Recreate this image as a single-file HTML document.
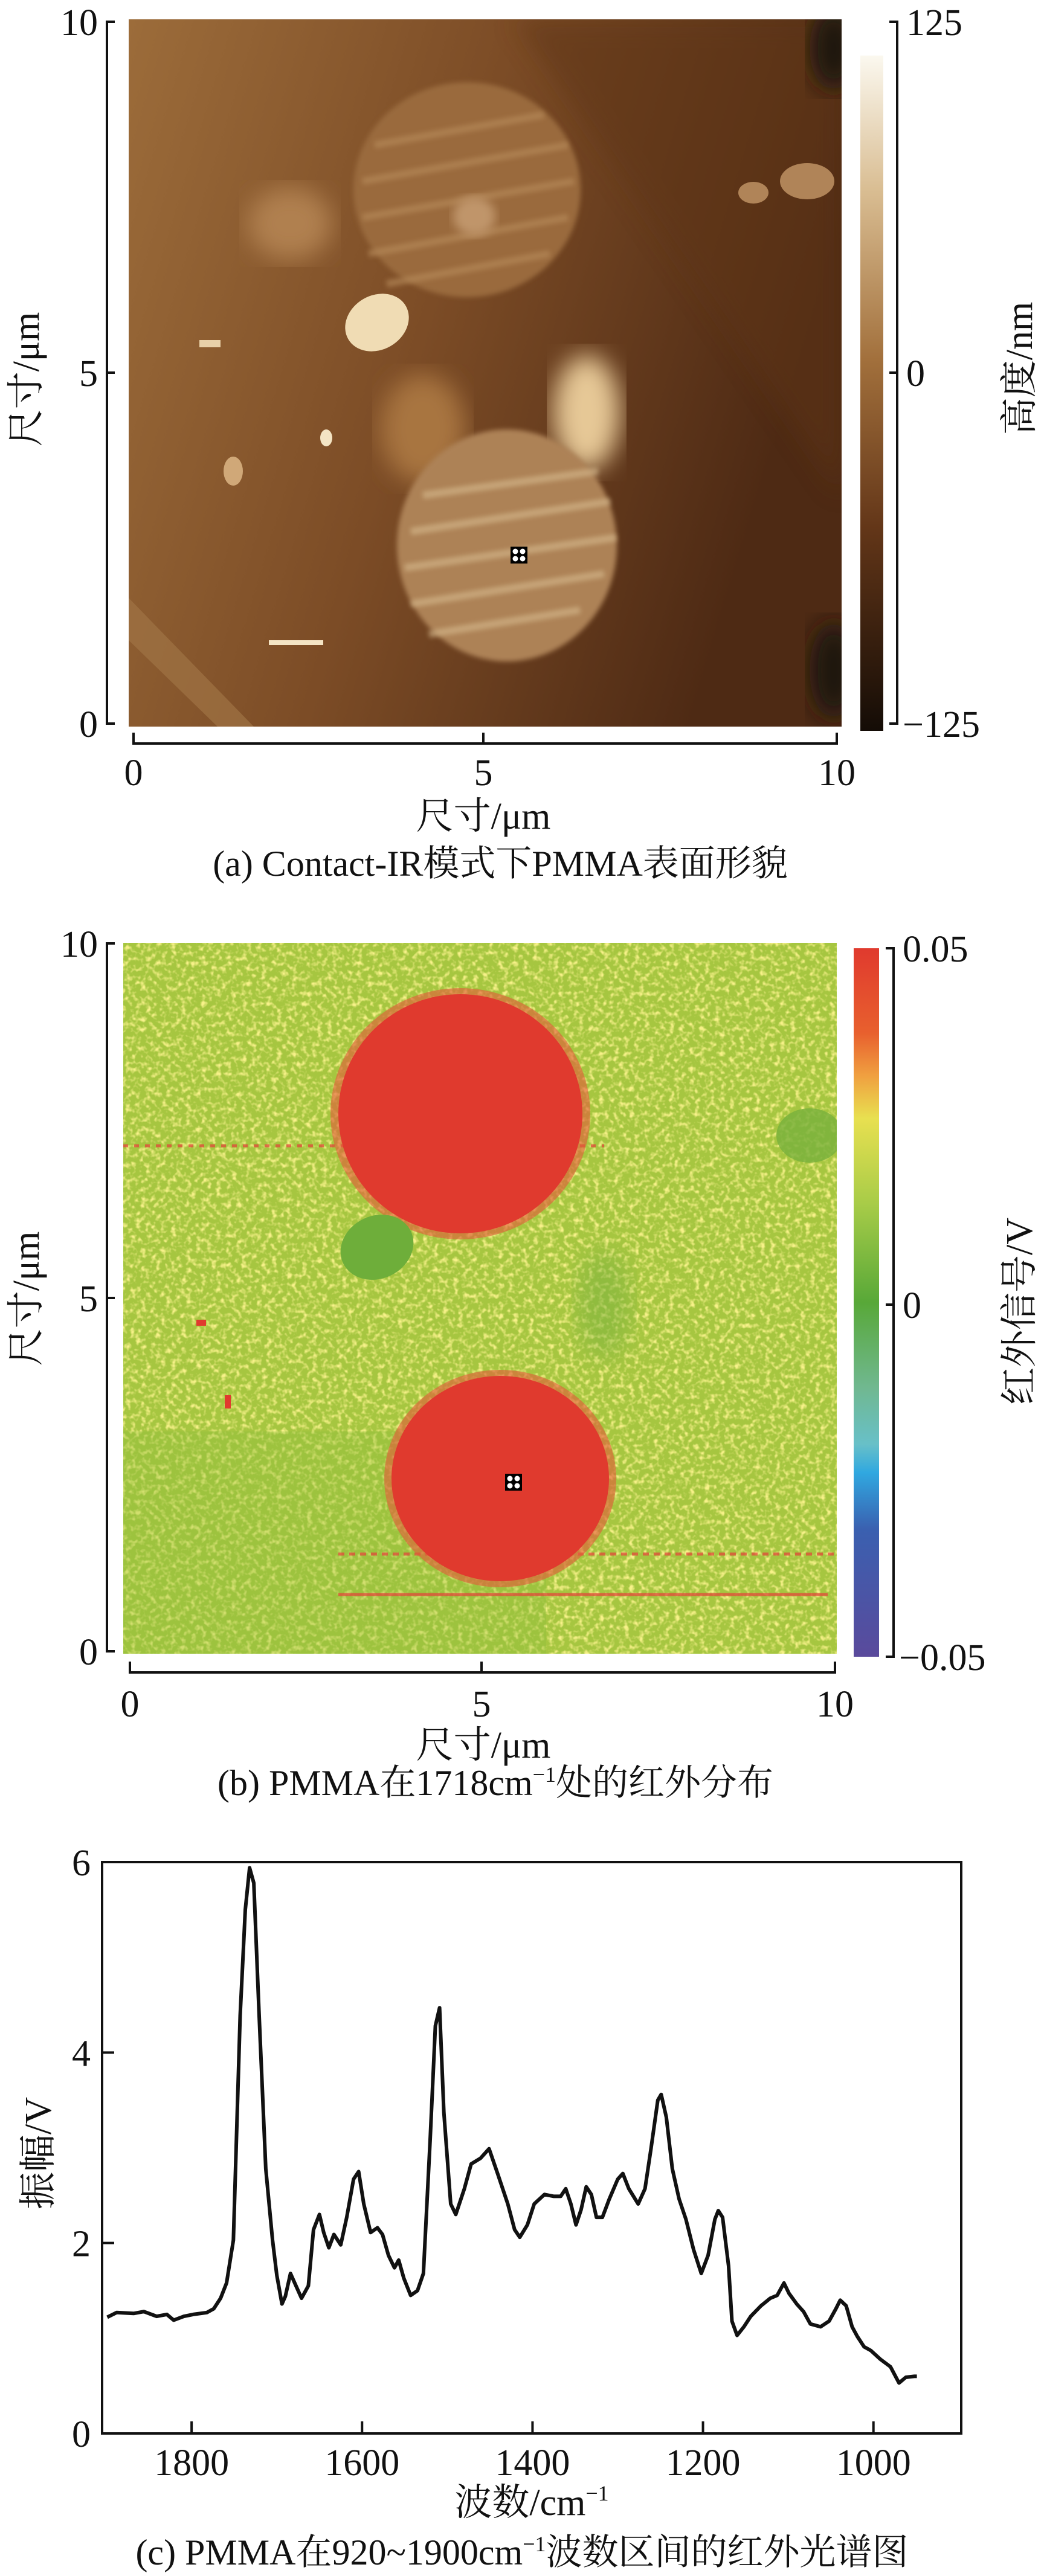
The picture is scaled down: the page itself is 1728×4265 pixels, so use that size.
<!DOCTYPE html>
<html><head><meta charset="utf-8">
<style>
html,body{margin:0;padding:0;background:#fff;}
svg{display:block;}
.t{font-family:"Liberation Serif","Noto Serif CJK SC",serif;fill:#111;}
</style></head>
<body>
<svg id="fig" width="1728" height="4265" viewBox="0 0 1728 4265" xmlns="http://www.w3.org/2000/svg">
<defs>
  <linearGradient id="gA" x1="0" y1="0" x2="1" y2="0.3">
    <stop offset="0" stop-color="#9c6c3a"/><stop offset="0.5" stop-color="#7c4c26"/><stop offset="1" stop-color="#4e2a14"/>
  </linearGradient>
  <linearGradient id="cbA" x1="0" y1="0" x2="0" y2="1">
    <stop offset="0" stop-color="#fbf8ef"/><stop offset="0.2" stop-color="#d9bd92"/><stop offset="0.45" stop-color="#a2703c"/><stop offset="0.7" stop-color="#633618"/><stop offset="1" stop-color="#140c06"/>
  </linearGradient>
  <linearGradient id="cbB" x1="0" y1="0" x2="0" y2="1">
    <stop offset="0" stop-color="#e03a2e"/><stop offset="0.12" stop-color="#e8602e"/><stop offset="0.18" stop-color="#f0a040"/><stop offset="0.24" stop-color="#e8e050"/><stop offset="0.36" stop-color="#a8cc48"/><stop offset="0.5" stop-color="#58a838"/><stop offset="0.62" stop-color="#70b890"/><stop offset="0.7" stop-color="#68c0c8"/><stop offset="0.74" stop-color="#30a8e0"/><stop offset="0.82" stop-color="#3a60b0"/><stop offset="1" stop-color="#5a4a9c"/>
  </linearGradient>
  <filter id="blur20"><feGaussianBlur stdDeviation="20"/></filter>
  <filter id="blur8"><feGaussianBlur stdDeviation="8"/></filter>
  <filter id="blur4"><feGaussianBlur stdDeviation="4"/></filter>
  <filter id="noise" x="0" y="0" width="100%" height="100%">
    <feTurbulence type="fractalNoise" baseFrequency="0.12" numOctaves="2" seed="3" result="n"/>
    <feColorMatrix in="n" type="matrix" values="0 0 0 0 0.93  0 0 0 0 0.88  0 0 0 0 0.25  0 0 0 3 -1.4" result="y"/>
    <feComposite in="y" in2="SourceGraphic" operator="in"/>
  </filter>
  <clipPath id="clipA"><rect x="213" y="32" width="1180" height="1171"/></clipPath>
  <clipPath id="clipB"><rect x="204" y="1561" width="1181" height="1177"/></clipPath>
</defs>

<!-- ===== Panel (a) ===== -->
<g clip-path="url(#clipA)">
  <rect x="213" y="32" width="1180" height="1171" fill="url(#gA)"/>
  <path d="M850 32 L1393 820 L1393 32 Z" fill="#5e3419" opacity="0.5" filter="url(#blur20)"/>
  <ellipse cx="1380" cy="80" rx="40" ry="70" fill="#1e120a" filter="url(#blur20)"/>
  <ellipse cx="1380" cy="1110" rx="40" ry="80" fill="#1e120a" filter="url(#blur20)"/>
  <ellipse cx="480" cy="370" rx="70" ry="60" fill="#b08050" filter="url(#blur20)"/>
  <ellipse cx="700" cy="710" rx="70" ry="90" fill="#a87440" filter="url(#blur20)"/>
  <ellipse cx="773" cy="314" rx="188" ry="178" fill="#9a6a3c" filter="url(#blur4)"/>
  <g stroke="#b88c5c" stroke-width="12" opacity="0.6" filter="url(#blur4)">
    <line x1="620" y1="240" x2="900" y2="190"/><line x1="600" y1="300" x2="940" y2="240"/>
    <line x1="600" y1="360" x2="950" y2="300"/><line x1="610" y1="420" x2="940" y2="360"/>
    <line x1="640" y1="470" x2="910" y2="420"/>
  </g>
  <ellipse cx="785" cy="358" rx="35" ry="32" fill="#c0956a" filter="url(#blur8)"/>
  <ellipse cx="971" cy="683" rx="55" ry="95" fill="#e6c896" filter="url(#blur20)"/>
  <ellipse cx="839" cy="903" rx="182" ry="192" fill="#ad8256" filter="url(#blur4)"/>
  <g stroke="#d8bc90" stroke-width="12" opacity="0.6" filter="url(#blur4)">
    <line x1="700" y1="820" x2="990" y2="780"/><line x1="680" y1="880" x2="1010" y2="830"/>
    <line x1="670" y1="940" x2="1020" y2="890"/><line x1="680" y1="1000" x2="1000" y2="950"/>
    <line x1="710" y1="1050" x2="960" y2="1010"/>
  </g>
  <ellipse cx="624" cy="534" rx="55" ry="45" transform="rotate(-30 624 534)" fill="#f0dcb4"/>
  <ellipse cx="1336" cy="300" rx="45" ry="30" fill="#b08458"/>
  <ellipse cx="1247" cy="319" rx="25" ry="18" fill="#b08458"/>
  <ellipse cx="386" cy="780" rx="16" ry="24" fill="#d0a878"/>
  <ellipse cx="540" cy="725" rx="10" ry="14" fill="#f4e4c4"/>
  <rect x="445" y="1060" width="90" height="8" fill="#f4e4c4"/>
  <rect x="330" y="563" width="35" height="12" fill="#e8d0a8"/>
  <path d="M213 990 L420 1203 L360 1203 L213 1060 Z" fill="#a07444" opacity="0.7"/>
  <rect x="845" y="905" width="28" height="28" fill="#000"/>
  <circle cx="853" cy="913" r="4.5" fill="#fff"/><circle cx="865" cy="913" r="4.5" fill="#fff"/>
  <circle cx="853" cy="925" r="4.5" fill="#fff"/><circle cx="865" cy="925" r="4.5" fill="#fff"/>
</g>
<rect x="1424" y="92" width="38" height="1118" fill="url(#cbA)"/>
<g stroke="#111" stroke-width="4" fill="none">
  <path d="M190 36 H177 V1198 H190 M177 617 H190"/>
  <path d="M221 1213 V1231 H1385 V1213 M800 1231 V1213"/>
  <path d="M1472 36 H1485 V1198 H1472 M1485 617 H1472"/>
</g>
<g class="t" font-size="62">
  <text x="162" y="58" text-anchor="end">10</text>
  <text x="162" y="639" text-anchor="end">5</text>
  <text x="162" y="1220" text-anchor="end">0</text>
  <text x="221" y="1300" text-anchor="middle">0</text>
  <text x="800" y="1300" text-anchor="middle">5</text>
  <text x="1385" y="1300" text-anchor="middle">10</text>
  <text x="1500" y="58">125</text>
  <text x="1500" y="639">0</text>
  <text x="1494" y="1220">−125</text>
  <text x="800" y="1372" text-anchor="middle">尺寸/μm</text>
  <text transform="translate(64 628) rotate(-90)" text-anchor="middle">尺寸/μm</text>
  <text transform="translate(1708 610) rotate(-90)" text-anchor="middle">高度/nm</text>
  <text x="828" y="1450" text-anchor="middle" font-size="60">(a) Contact-IR模式下PMMA表面形貌</text>
</g>

<!-- ===== Panel (b) ===== -->
<g clip-path="url(#clipB)">
  <rect x="204" y="1561" width="1181" height="1177" fill="#a6c640"/>
  <rect x="204" y="1561" width="1181" height="1177" fill="#a6c640" filter="url(#noise)"/>
  <rect x="204" y="2370" width="700" height="368" fill="#8cbc3c" opacity="0.35"/>
  <ellipse cx="1000" cy="2160" rx="45" ry="90" fill="#78b03c" opacity="0.5" filter="url(#blur20)"/>
  <ellipse cx="1340" cy="1880" rx="55" ry="45" fill="#78b03c" opacity="0.8"/>
  <g stroke="#e6403a" stroke-width="5" opacity="0.7">
    <line x1="204" y1="1897" x2="1000" y2="1897" stroke-dasharray="8 10"/>
    <line x1="560" y1="2640" x2="1370" y2="2640"/>
    <line x1="560" y1="2573" x2="1380" y2="2573" stroke-dasharray="10 8"/>
  </g>
  <ellipse cx="762" cy="1844" rx="215" ry="208" fill="#e45a3a" opacity="0.6"/>
  <ellipse cx="762" cy="1844" rx="202" ry="198" fill="#e03a2e"/>
  <ellipse cx="828" cy="2448" rx="192" ry="180" fill="#e45a3a" opacity="0.6"/>
  <ellipse cx="828" cy="2448" rx="180" ry="170" fill="#e03a2e"/>
  <ellipse cx="624" cy="2065" rx="62" ry="52" transform="rotate(-25 624 2065)" fill="#6eae3a"/>
  <rect x="325" y="2185" width="16" height="10" fill="#e03a2e"/>
  <rect x="372" y="2310" width="10" height="22" fill="#e03a2e"/>
  <rect x="836" y="2440" width="28" height="28" fill="#000"/>
  <circle cx="844" cy="2448" r="4.5" fill="#fff"/><circle cx="856" cy="2448" r="4.5" fill="#fff"/>
  <circle cx="844" cy="2460" r="4.5" fill="#fff"/><circle cx="856" cy="2460" r="4.5" fill="#fff"/>
</g>
<rect x="1413" y="1570" width="42" height="1173" fill="url(#cbB)"/>
<g stroke="#111" stroke-width="4" fill="none">
  <path d="M190 1562 H177 V2734 H190 M177 2149 H190"/>
  <path d="M215 2751 V2769 H1382 V2751 M797 2769 V2751"/>
  <path d="M1466 1570 H1479 V2743 H1466 M1479 2160 H1466"/>
</g>
<g class="t" font-size="62">
  <text x="162" y="1584" text-anchor="end">10</text>
  <text x="162" y="2171" text-anchor="end">5</text>
  <text x="162" y="2756" text-anchor="end">0</text>
  <text x="215" y="2842" text-anchor="middle">0</text>
  <text x="797" y="2842" text-anchor="middle">5</text>
  <text x="1382" y="2842" text-anchor="middle">10</text>
  <text x="1494" y="1592">0.05</text>
  <text x="1494" y="2182">0</text>
  <text x="1488" y="2765">−0.05</text>
  <text x="800" y="2910" text-anchor="middle">尺寸/μm</text>
  <text transform="translate(64 2150) rotate(-90)" text-anchor="middle">尺寸/μm</text>
  <text transform="translate(1708 2171) rotate(-90)" text-anchor="middle">红外信号/V</text>
  <text x="820" y="2972" text-anchor="middle" font-size="60">(b) PMMA在1718cm<tspan font-size="36" dy="-22">−1</tspan><tspan dy="22">处的红外分布</tspan></text>
</g>

<!-- ===== Panel (c) ===== -->
<g id="chartC"></g>
<g class="t" font-size="62">
  <text transform="translate(84 3565) rotate(-90)" text-anchor="middle">振幅/V</text>
  <text x="880" y="4164" text-anchor="middle">波数/cm<tspan font-size="36" dy="-24">−1</tspan></text>
  <text x="864" y="4246" text-anchor="middle" font-size="60">(c) PMMA在920~1900cm<tspan font-size="36" dy="-22">−1</tspan><tspan dy="22">波数区间的红外光谱图</tspan></text>
</g>
</svg>
<script>
const wavenumbers = [1899,1888,1868,1856,1841,1829,1821,1809,1798,1782,1774,1766,1759,1751,1743,1737,1732,1727,1721,1713,1705,1700,1694,1690,1684,1679,1671,1663,1657,1650,1645,1639,1633,1625,1618,1610,1604,1598,1590,1582,1576,1569,1562,1557,1551,1543,1535,1528,1520,1514,1509,1504,1496,1490,1480,1472,1461,1451,1441,1429,1421,1415,1406,1398,1386,1375,1367,1361,1355,1349,1343,1337,1331,1325,1318,1310,1300,1294,1287,1276,1268,1261,1253,1249,1243,1236,1228,1220,1211,1202,1194,1186,1182,1177,1170,1166,1160,1152,1144,1132,1121,1113,1105,1099,1090,1082,1074,1062,1052,1044,1039,1032,1025,1019,1011,1003,992,980,970,962,952,949];
const amplitudes = [1.22,1.27,1.26,1.28,1.23,1.25,1.19,1.23,1.25,1.27,1.31,1.42,1.58,2.03,4.39,5.5,5.94,5.78,4.44,2.78,2.03,1.66,1.36,1.44,1.68,1.58,1.42,1.55,2.14,2.30,2.11,1.95,2.09,1.98,2.27,2.67,2.75,2.41,2.11,2.16,2.09,1.87,1.74,1.82,1.63,1.45,1.50,1.68,3.10,4.28,4.47,3.37,2.41,2.30,2.57,2.83,2.89,2.99,2.73,2.41,2.14,2.06,2.19,2.41,2.51,2.49,2.49,2.57,2.41,2.19,2.35,2.59,2.51,2.27,2.27,2.46,2.67,2.73,2.57,2.41,2.57,2.99,3.50,3.56,3.32,2.78,2.46,2.25,1.93,1.68,1.87,2.25,2.34,2.27,1.76,1.18,1.03,1.12,1.23,1.34,1.42,1.45,1.58,1.47,1.36,1.28,1.15,1.12,1.18,1.31,1.40,1.34,1.12,1.02,0.91,0.87,0.78,0.70,0.53,0.59,0.60,0.60];
const xTicks = [1800,1600,1400,1200,1000];
const yTicks = [0,2,4,6];

const NS = 'http://www.w3.org/2000/svg';
const g = document.getElementById('chartC');
const L = 169, R = 1591, T = 3083, B = 4029;
const xMax = 1905, xMin = 897, yMin = 0, yMax = 6;
function sx(v){ return L + (xMax - v) / (xMax - xMin) * (R - L); }
function sy(v){ return B - (v - yMin) / (yMax - yMin) * (B - T); }
function mk(tag, attrs){ const e = document.createElementNS(NS, tag); for (const k in attrs) e.setAttribute(k, attrs[k]); g.appendChild(e); return e; }

const frame = mk('rect', {x:L, y:T, width:R-L, height:B-T, fill:'none', stroke:'#111', 'stroke-width':4});



xTicks.forEach(v => {
  const tk = mk('line', {x1:sx(v), x2:sx(v), y1:B, y2:B-20, stroke:'#111', 'stroke-width':4});
  
  
  const lb = mk('text', {x:sx(v), y:4098, 'text-anchor':'middle', class:'t', 'font-size':62});
  lb.textContent = v;
  
  
});
yTicks.forEach(v => {
  const tk = mk('line', {x1:L, x2:L+20, y1:sy(v), y2:sy(v), stroke:'#111', 'stroke-width':4});
  
  
  const lb = mk('text', {x:150, y:sy(v)+22, 'text-anchor':'end', class:'t', 'font-size':62});
  lb.textContent = v;
  
  
});

let d = '';
wavenumbers.forEach((w, i) => { d += (i ? 'L' : 'M') + sx(w).toFixed(1) + ' ' + sy(amplitudes[i]).toFixed(1) + ' '; });
const line = mk('path', {d:d, fill:'none', stroke:'#111', 'stroke-width':6, 'stroke-linejoin':'round'});


</script>
</body></html>
